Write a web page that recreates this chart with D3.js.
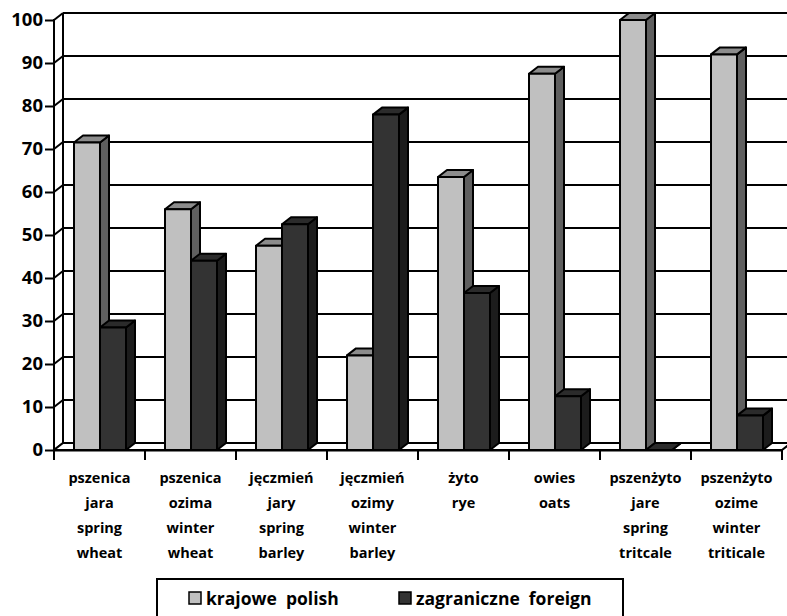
<!DOCTYPE html>
<html>
<head>
<meta charset="utf-8">
<script src="https://cdn.jsdelivr.net/npm/d3@7/dist/d3.min.js"></script>
<style>
  body { margin: 0; background: #fff; }
  text { font-family: "Open Sans", "Noto Sans", sans-serif; font-weight: 700; fill: #000; }
</style>
</head>
<body>
<script>
const categories = [
    ["pszenica", "jara", "spring", "wheat"],
    ["pszenica", "ozima", "winter", "wheat"],
    ["jęczmień", "jary", "spring", "barley"],
    ["jęczmień", "ozimy", "winter", "barley"],
    ["żyto", "rye"],
    ["owies", "oats"],
    ["pszenżyto", "jare", "spring", "tritcale"],
    ["pszenżyto", "ozime", "winter", "triticale"]
];
const seriesNames = ["krajowe  polish", "zagraniczne  foreign"];
const polish = [71.5, 56, 47.5, 22, 63.5, 87.5, 100, 92];
const foreign = [28.5, 44, 52.5, 78, 36.5, 12.5, 0, 8];
const yTicks = [0, 10, 20, 30, 40, 50, 60, 70, 80, 90, 100];

const WIDTH = 787;
const HEIGHT = 616;
const LEFT = 54, RIGHT = 782, TOP = 20, BOTTOM = 450;
const DX = 9, DY = -7;

// front face, top, side
var colors = [
    {front: '#c0c0c0', top: '#8c8c8c', side: '#5f5f5f'},
    {front: '#333333', top: '#2b2b2b', side: '#1c1c1c'}
];

var svg = d3.select('body').append('svg')
    .attr('width', WIDTH)
    .attr('height', HEIGHT);

svg.append('rect').attr('width', WIDTH).attr('height', HEIGHT).attr('fill', '#fff');

var yScale = d3.scaleLinear().domain([0, 100]).range([BOTTOM, TOP]);

var xScale = d3.scaleBand()
    .domain(d3.range(categories.length))
    .range([LEFT, RIGHT])
    .padding(0);

var seriesScale = d3.scaleBand()
    .domain(d3.range(seriesNames.length))
    .range([20, 72])
    .padding(0);

var line = function(pts) {
    return 'M' + pts.map(function(p) { return p[0] + ',' + p[1]; }).join('L') + 'Z';
};

// back wall gridlines
svg.append('g').selectAll('line').data(yTicks).enter().append('line')
    .attr('x1', LEFT + DX).attr('x2', RIGHT + DX)
    .attr('y1', function(d) { return yScale(d) + DY; })
    .attr('y2', function(d) { return yScale(d) + DY; })
    .attr('stroke', '#000').attr('stroke-width', 2);

// side wall gridlines
svg.append('g').selectAll('line').data(yTicks).enter().append('line')
    .attr('x1', LEFT).attr('x2', LEFT + DX)
    .attr('y1', function(d) { return yScale(d); })
    .attr('y2', function(d) { return yScale(d) + DY; })
    .attr('stroke', '#000').attr('stroke-width', 2);

svg.append('line')
    .attr('x1', LEFT + DX).attr('x2', LEFT + DX)
    .attr('y1', yScale(100) + DY).attr('y2', yScale(0) + DY)
    .attr('stroke', '#000').attr('stroke-width', 2);

// floor
svg.append('path')
    .attr('d', line([[LEFT, yScale(0)], [RIGHT, yScale(0)], [RIGHT + DX, yScale(0) + DY], [LEFT + DX, yScale(0) + DY]]))
    .attr('fill', '#fff').attr('stroke', '#000').attr('stroke-width', 2)
    .attr('stroke-linejoin', 'round');

// bars
var barData = [];
categories.forEach(function(c, i) {
    [polish[i], foreign[i]].forEach(function(v, s) {
        barData.push({cat: i, s: s, value: v});
    });
});

var bars = svg.append('g').selectAll('g').data(barData).enter().append('g');

var barBox = function(d) {
    var x0 = xScale(d.cat) + seriesScale(d.s);
    var x1 = x0 + seriesScale.bandwidth();
    var y0 = yScale(0);
    var y1 = yScale(d.value);
    return {x0: x0, x1: x1, y0: y0, y1: y1};
};

bars.append('path')
    .attr('d', function(d) {
        var b = barBox(d);
        return line([[b.x1, b.y0], [b.x1 + DX, b.y0 + DY], [b.x1 + DX, b.y1 + DY], [b.x1, b.y1]]);
    })
    .attr('fill', function(d) { return colors[d.s].side; });

bars.append('path')
    .attr('d', function(d) {
        var b = barBox(d);
        return line([[b.x0, b.y1], [b.x0 + DX, b.y1 + DY], [b.x1 + DX, b.y1 + DY], [b.x1, b.y1]]);
    })
    .attr('fill', function(d) { return colors[d.s].top; });

bars.append('path')
    .attr('d', function(d) {
        var b = barBox(d);
        return line([[b.x0, b.y0], [b.x0, b.y1], [b.x1, b.y1], [b.x1, b.y0]]);
    })
    .attr('fill', function(d) { return colors[d.s].front; });

bars.selectAll('path')
    .attr('stroke', '#000').attr('stroke-width', 2)
    .attr('stroke-linejoin', 'round');

// front axis
var yAxis = d3.axisLeft(yScale).tickValues(yTicks).tickSize(9).tickPadding(2);
var gy = svg.append('g')
    .attr('transform', 'translate(' + LEFT + ',0)')
    .call(yAxis);
gy.select('.domain').attr('d', 'M0,' + (yScale(100) - 1) + 'V' + (yScale(0) + 1))
    .attr('stroke', '#000').attr('stroke-width', 2);
gy.selectAll('.tick line').attr('stroke', '#000').attr('stroke-width', 2);
gy.selectAll('.tick text')
    .style('font-family', '"Open Sans", sans-serif').style('font-weight', 700)
    .style('font-size', '18.5px').attr('fill', '#000');

var xAxis = d3.axisBottom(xScale).tickSize(0).tickFormat('');
var gx = svg.append('g')
    .attr('transform', 'translate(0,' + yScale(0) + ')')
    .call(xAxis);
gx.select('.domain').attr('stroke', '#000').attr('stroke-width', 2);

// category separators
svg.append('g').selectAll('line').data(d3.range(categories.length + 1)).enter().append('line')
    .attr('x1', function(d) { return LEFT + d * xScale.bandwidth(); })
    .attr('x2', function(d) { return LEFT + d * xScale.bandwidth(); })
    .attr('y1', yScale(0)).attr('y2', yScale(0) + 10)
    .attr('stroke', '#000').attr('stroke-width', 2);

// category labels
var labels = svg.append('g').selectAll('text').data(categories).enter().append('text')
    .attr('x', function(d, i) { return xScale(i) + xScale.bandwidth() / 2; })
    .attr('y', 483)
    .attr('text-anchor', 'middle')
    .style('font-size', '14.5px');

labels.selectAll('tspan').data(function(d) { return d; }).enter().append('tspan')
    .attr('x', function() { return d3.select(this.parentNode).attr('x'); })
    .attr('dy', function(d, i) { return i === 0 ? 0 : 25; })
    .text(function(d) { return d; });

// legend
var legend = svg.append('g');
legend.append('rect')
    .attr('x', 157).attr('y', 579)
    .attr('width', 466).attr('height', 50)
    .attr('fill', '#fff').attr('stroke', '#000').attr('stroke-width', 2);

var legendX = [189, 399];
var items = legend.selectAll('g.item').data(seriesNames).enter().append('g')
    .attr('transform', function(d, i) { return 'translate(' + legendX[i] + ',592)'; });

items.append('rect')
    .attr('width', 12).attr('height', 12)
    .attr('fill', function(d, i) { return colors[i].front; })
    .attr('stroke', '#000').attr('stroke-width', 1.5);

items.append('text')
    .attr('x', 17).attr('y', 13)
    .style('font-size', '17.5px')
    .style('white-space', 'pre')
    .text(function(d) { return d; });
</script>
</body>
</html>
